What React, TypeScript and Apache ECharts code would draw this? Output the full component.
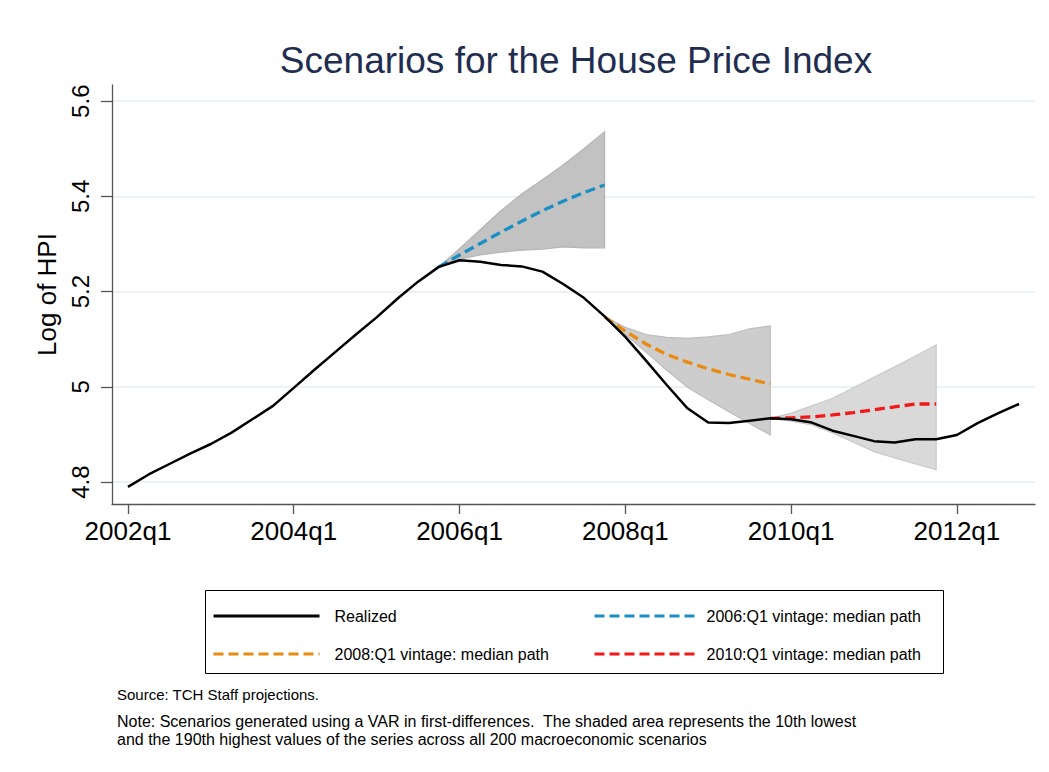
import React, { useEffect, useRef } from "react";
import * as echarts from "echarts";

// Quarter index 0 = 2002q1 ... 43 = 2012q4
const realized = [
  4.790, 4.816, 4.838, 4.860, 4.880, 4.904, 4.932, 4.960, 4.998, 5.036,
  5.073, 5.110, 5.146, 5.185, 5.221, 5.252, 5.266, 5.263, 5.256, 5.253,
  5.242, 5.216, 5.187, 5.148, 5.105, 5.055, 5.004, 4.955, 4.925, 4.924,
  4.929, 4.934, 4.932, 4.925, 4.908, 4.897, 4.886, 4.883, 4.890, 4.890,
  4.899, 4.924, 4.945, 4.964,
];

// 2006:Q1 vintage (starts at 2005q4, index 15)
const v2006Start = 15;
const v2006Median = [5.252, 5.277, 5.301, 5.325, 5.348, 5.370, 5.390, 5.408, 5.424];
const v2006Upper = [5.252, 5.290, 5.330, 5.370, 5.405, 5.435, 5.466, 5.500, 5.536];
const v2006Lower = [5.252, 5.268, 5.277, 5.283, 5.287, 5.289, 5.294, 5.292, 5.292];

// 2008:Q1 vintage (starts at 2007q4, index 23)
const v2008Start = 23;
const v2008Median = [5.147, 5.117, 5.090, 5.068, 5.052, 5.038, 5.026, 5.016, 5.006];
const v2008Upper = [5.147, 5.125, 5.110, 5.104, 5.102, 5.105, 5.110, 5.122, 5.128];
const v2008Lower = [5.147, 5.110, 5.073, 5.035, 4.999, 4.973, 4.948, 4.923, 4.899];

// 2010:Q1 vintage (starts at 2009q4, index 31)
const v2010Start = 31;
const v2010Median = [4.934, 4.935, 4.937, 4.941, 4.946, 4.952, 4.958, 4.964, 4.964];
const v2010Upper = [4.934, 4.945, 4.960, 4.976, 4.998, 5.020, 5.042, 5.065, 5.088];
const v2010Lower = [4.934, 4.928, 4.920, 4.903, 4.884, 4.864, 4.851, 4.838, 4.826];

const xTickIdx = [0, 8, 16, 24, 32, 40];
const xTickLabels = ["2002q1", "2004q1", "2006q1", "2008q1", "2010q1", "2012q1"];
const yTicks = [4.8, 5.0, 5.2, 5.4, 5.6];

const names = {
  realized: "Realized",
  v2006: "2006:Q1 vintage: median path",
  v2008: "2008:Q1 vintage: median path",
  v2010: "2010:Q1 vintage: median path",
};

const FONT = "'Liberation Sans', Arial, Helvetica, sans-serif";

function toPairs(start: number, vals: number[]) {
  return vals.map((v, k) => [start + k, v]);
}

function bandSeries(start: number, upper: number[], lower: number[], fill: string, stroke: string) {
  return {
    type: "custom",
    silent: true,
    z: 1,
    data: [[start, upper[0]]],
    renderItem: (params: any, api: any) => {
      const pts: number[][] = [];
      upper.forEach((v, k) => pts.push(api.coord([start + k, v])));
      for (let k = lower.length - 1; k >= 0; k--) pts.push(api.coord([start + k, lower[k]]));
      return {
        type: "polygon",
        shape: { points: pts },
        style: { fill, stroke, lineWidth: 1.2 },
      };
    },
  };
}

export default function App() {
  const ref = useRef<HTMLDivElement>(null);
  useEffect(() => {
    document.body.style.margin = "0";
    const chart = echarts.init(ref.current!, null, { renderer: "svg" });
    const dash = [10, 5];
    chart.setOption({
      animation: false,
      backgroundColor: "#ffffff",
      textStyle: { fontFamily: FONT },
      grid: { left: 112, right: 14, top: 85, bottom: 268 },
      xAxis: {
        type: "value",
        min: -0.77,
        max: 43.77,
        axisLine: { show: true, onZero: false, lineStyle: { color: "#555555", width: 1.3 } },
        axisTick: { show: true, length: 10, customValues: xTickIdx, lineStyle: { color: "#555555", width: 1.3 } },
        axisLabel: {
          customValues: xTickIdx,
          formatter: (v: number) => xTickLabels[xTickIdx.indexOf(Math.round(v))] ?? "",
          fontSize: 26,
          color: "#000000",
          margin: 14,
          fontFamily: FONT,
        },
        splitLine: { show: false },
      },
      yAxis: {
        type: "value",
        min: 4.754,
        max: 5.634,
        name: "Log of HPI",
        nameLocation: "middle",
        nameGap: 50,
        nameTextStyle: { fontSize: 26, color: "#000000", fontFamily: FONT },
        axisLine: { show: true, onZero: false, lineStyle: { color: "#555555", width: 1.3 } },
        axisTick: { show: true, length: 11, customValues: yTicks, lineStyle: { color: "#555555", width: 1.3 } },
        axisLabel: {
          customValues: yTicks,
          rotate: 90,
          fontSize: 24,
          color: "#000000",
          margin: 20,
          fontFamily: FONT,
          formatter: (v: number) => String(Math.round(v * 10) / 10),
        },
        splitLine: { show: true, lineStyle: { color: "#eaf2f3", width: 2 } },
      },
      legend: [
        {
          orient: "vertical",
          left: 212,
          top: 608,
          padding: 0,
          itemWidth: 106,
          itemHeight: 14,
          itemGap: 22,
          itemStyle: { opacity: 0 },
          lineStyle: { width: 3 },
          data: [names.realized, names.v2008],
          textStyle: { fontSize: 16, color: "#000000", fontFamily: FONT, padding: [0, 0, 0, 10] },
        },
        {
          orient: "vertical",
          left: 593,
          top: 608,
          padding: 0,
          itemWidth: 100,
          itemHeight: 14,
          itemGap: 22,
          itemStyle: { opacity: 0 },
          lineStyle: { width: 3 },
          data: [names.v2006, names.v2010],
          textStyle: { fontSize: 16, color: "#000000", fontFamily: FONT, padding: [0, 0, 0, 7] },
        },
      ],
      graphic: [
        {
          type: "text",
          x: 576,
          y: 60,
          style: {
            text: "Scenarios for the House Price Index",
            font: `37px ${FONT}`,
            fill: "#1f2d50",
            textAlign: "center",
            textVerticalAlign: "middle",
          },
        },
        {
          type: "rect",
          shape: { x: 205.5, y: 590.5, width: 738, height: 83 },
          style: { fill: "none", stroke: "#000000", lineWidth: 1 },
        },
        {
          type: "text",
          x: 117,
          y: 694,
          style: {
            text: "Source: TCH Staff projections.",
            font: `15px ${FONT}`,
            fill: "#000000",
            textVerticalAlign: "middle",
          },
        },
        {
          type: "text",
          x: 117,
          y: 721,
          style: {
            text: "Note: Scenarios generated using a VAR in first-differences.  The shaded area represents the 10th lowest",
            font: `16px ${FONT}`,
            fill: "#000000",
            textVerticalAlign: "middle",
          },
        },
        {
          type: "text",
          x: 117,
          y: 739,
          style: {
            text: "and the 190th highest values of the series across all 200 macroeconomic scenarios",
            font: `16px ${FONT}`,
            fill: "#000000",
            textVerticalAlign: "middle",
          },
        },
      ],
      series: [
        bandSeries(v2006Start, v2006Upper, v2006Lower, "#c2c2c2", "#b4b4b4"),
        bandSeries(v2008Start, v2008Upper, v2008Lower, "#cdcdcd", "#bdbdbd"),
        bandSeries(v2010Start, v2010Upper, v2010Lower, "#d9d9d9", "#cacaca"),
        {
          name: names.v2006,
          type: "line",
          z: 3,
          showSymbol: false,
          symbol: "none",
          data: toPairs(v2006Start, v2006Median),
          lineStyle: { color: "#1a8fc3", width: 3.3, type: dash },
          itemStyle: { color: "#1a8fc3" },
        },
        {
          name: names.v2008,
          type: "line",
          z: 3,
          showSymbol: false,
          symbol: "none",
          data: toPairs(v2008Start, v2008Median),
          lineStyle: { color: "#ea8a10", width: 3.3, type: dash },
          itemStyle: { color: "#ea8a10" },
        },
        {
          name: names.v2010,
          type: "line",
          z: 3,
          showSymbol: false,
          symbol: "none",
          data: toPairs(v2010Start, v2010Median),
          lineStyle: { color: "#f21818", width: 3.3, type: dash },
          itemStyle: { color: "#f21818" },
        },
        {
          name: names.realized,
          type: "line",
          z: 4,
          showSymbol: false,
          symbol: "none",
          data: toPairs(0, realized),
          lineStyle: { color: "#000000", width: 2.5 },
          itemStyle: { color: "#000000" },
        },
      ],
    });
    return () => chart.dispose();
  }, []);
  return <div ref={ref} style={{ width: 1049, height: 772 }} />;
}
